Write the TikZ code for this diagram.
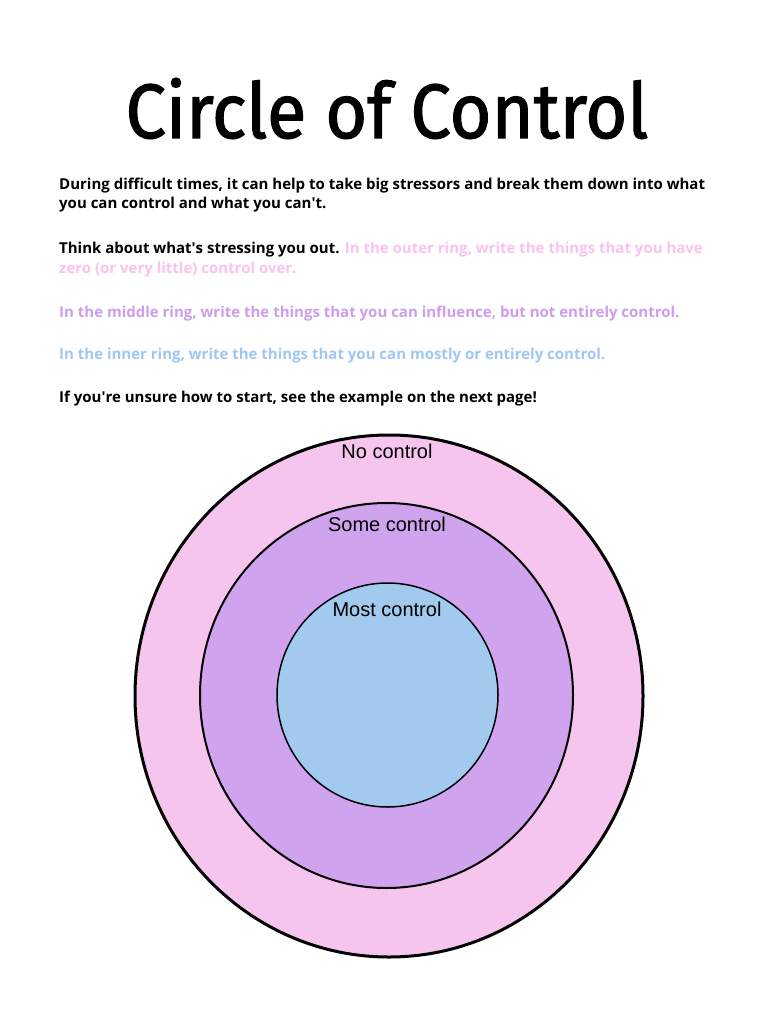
\documentclass[tikz,border=0pt]{standalone}
\usepackage{fontspec}
\setmainfont{Open Sans}
\newfontfamily\titlefont[FakeBold=1.6]{Fira Sans}
\newfontfamily\labelfont{Liberation Sans}
\definecolor{outerpink}{HTML}{F6C5EE}
\definecolor{midpurple}{HTML}{CFA3EE}
\definecolor{innerblue}{HTML}{A2C9EE}
\definecolor{pinktext}{HTML}{F9C3EE}
\definecolor{purpletext}{HTML}{CC9EEC}
\definecolor{bluetext}{HTML}{A0C6F2}
\newcommand{\apo}{\textquotesingle}
\tikzset{
  bodyline/.style={anchor=base west, inner sep=0pt, font=\fontsize{15}{18}\selectfont\bfseries},
  ringlabel/.style={anchor=base, inner sep=0pt, font=\labelfont\fontsize{20}{24}\selectfont}
}
\begin{document}
\begin{tikzpicture}[x=1pt, y=-1pt]
\useasboundingbox (0,0) rectangle (768,1024);
\fill[white] (0,0) rectangle (768,1024);

\node[anchor=base, inner sep=0pt, font=\titlefont\fontsize{77}{80}\selectfont] (title) at (387,138) {\scalebox{0.935}[1]{Circle of Control}};

\node[bodyline] (l1) at (59,190) {During difficult times, it can help to take big stressors and break them down into what};
\node[bodyline] (l2) at (59,209) {you can control and what you can\apo t.};
\node[bodyline] (l3) at (59,253) {Think about what\apo s stressing you out. \textcolor{pinktext}{In the outer ring, write the things that you have}};
\node[bodyline, text=pinktext] (l4) at (59,273) {zero (or very little) control over.};
\node[bodyline, text=purpletext] (l5) at (59,317) {In the middle ring, write the things that you can influence, but not entirely control.};
\node[bodyline, text=bluetext] (l6) at (59,359) {In the inner ring, write the things that you can mostly or entirely control.};
\node[bodyline] (l7) at (59,402) {If you\apo re unsure how to start, see the example on the next page!};

\draw[fill=outerpink, line width=3pt] (389,696) ellipse [x radius=254, y radius=261];
\draw[fill=midpurple, line width=2pt] (386.5,695.5) ellipse [x radius=186.5, y radius=192.5];
\draw[fill=innerblue, line width=1.5pt] (387.5,695) ellipse [x radius=110.5, y radius=112];

\node[ringlabel] (none) at (387,458) {No control};
\node[ringlabel] (some) at (387,531) {Some control};
\node[ringlabel] (most) at (387,616) {Most control};
\end{tikzpicture}
\end{document}
